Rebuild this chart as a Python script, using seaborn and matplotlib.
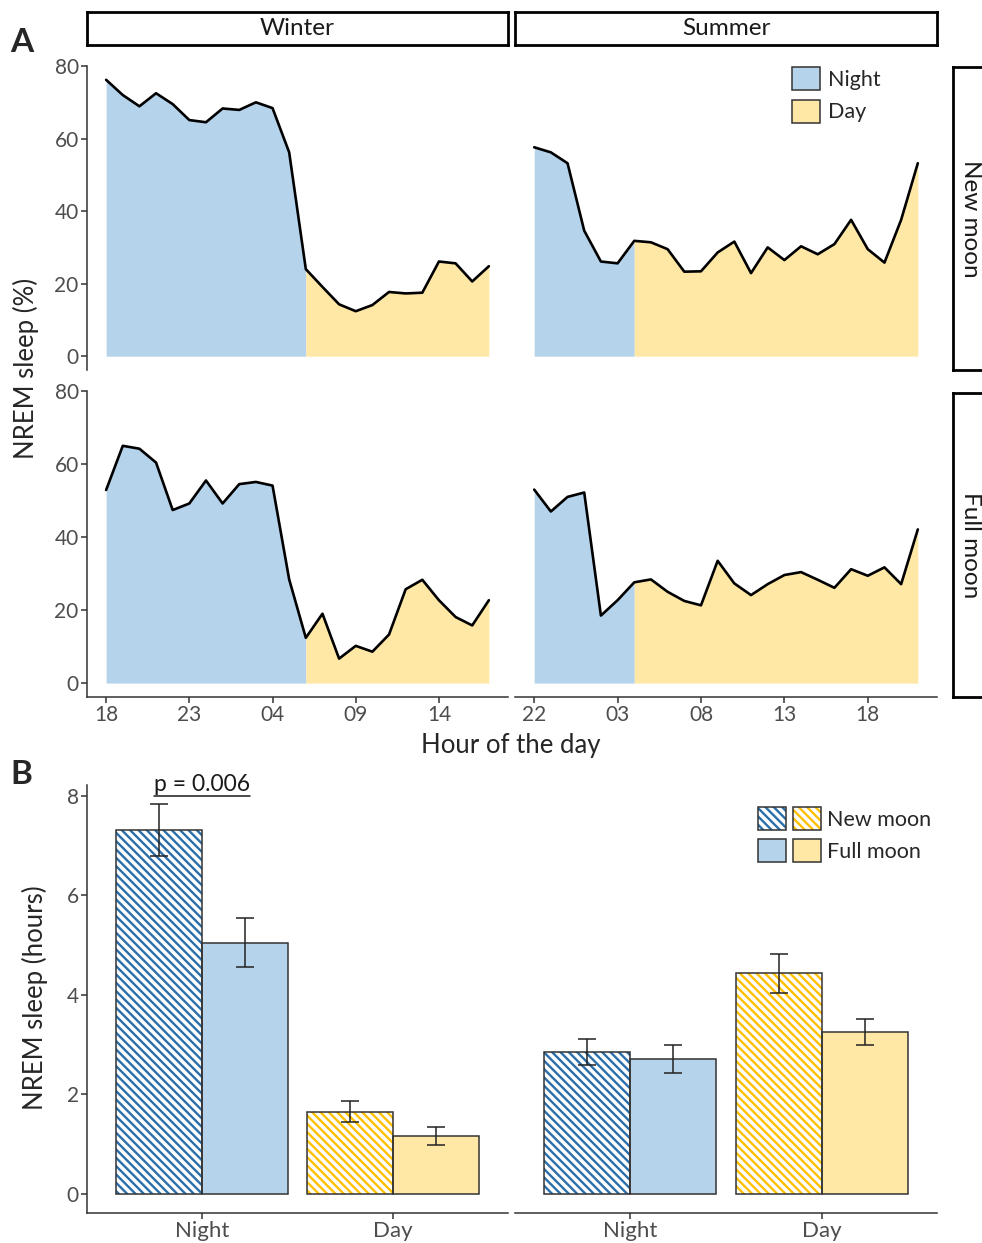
import pandas as pd
import seaborn as sns
import matplotlib.pyplot as plt
from matplotlib.patches import Patch, Rectangle
from matplotlib.legend_handler import HandlerTuple, HandlerPatch
from matplotlib.lines import Line2D

# --- hourly NREM sleep (%) -------------------------------------------------
winter_hours = [18, 19, 20, 21, 22, 23, 0, 1, 2, 3, 4, 5, 6, 7, 8, 9, 10, 11, 12, 13, 14, 15, 16, 17]
summer_hours = [22, 23, 0, 1, 2, 3, 4, 5, 6, 7, 8, 9, 10, 11, 12, 13, 14, 15, 16, 17, 18, 19, 20, 21]
winter_dawn = 6
summer_dawn = 4

winter_new = [76.2, 72.0, 68.9, 72.5, 69.5, 65.1, 64.5, 68.3, 67.9, 70.0, 68.4, 56.2,
              24.0, 19.1, 14.3, 12.4, 14.1, 17.7, 17.3, 17.5, 26.1, 25.6, 20.6, 24.8]
summer_new = [57.6, 56.2, 53.2, 34.6, 26.1, 25.6, 31.8, 31.4, 29.5, 23.3, 23.4, 28.6,
              31.6, 22.9, 30.0, 26.5, 30.3, 28.1, 30.9, 37.6, 29.5, 25.8, 37.6, 53.2]
winter_full = [52.9, 65.0, 64.2, 60.4, 47.4, 49.2, 55.5, 49.2, 54.5, 55.1, 54.1, 28.4,
               12.4, 19.0, 6.7, 10.2, 8.6, 13.3, 25.7, 28.3, 22.7, 18.1, 15.8, 22.7]
summer_full = [53.0, 47.0, 51.0, 52.2, 18.5, 22.7, 27.6, 28.4, 25.0, 22.5, 21.3, 33.5,
               27.3, 24.1, 27.1, 29.6, 30.4, 28.3, 26.1, 31.2, 29.4, 31.7, 27.1, 42.1]

# --- total NREM sleep (hours), order Night, Day ----------------------------
periods = ["Night", "Day"]
phases = ["New moon", "Full moon"]
winter_new_hrs = [7.31, 1.65]
winter_new_se = [0.52, 0.22]
winter_full_hrs = [5.05, 1.15]
winter_full_se = [0.50, 0.18]
summer_new_hrs = [2.84, 4.43]
summer_new_se = [0.26, 0.39]
summer_full_hrs = [2.71, 3.25]
summer_full_se = [0.28, 0.26]

BLUE = "#B6D3EC"
YELLOW = "#FFE8A6"
BLUE_H = "#2B6EAA"
YELLOW_H = "#FFC000"
EDGE = "#333333"
GREY = "#4D4D4D"
HATCH = "\\\\\\\\"

sns.set_style("ticks")
plt.rcParams["font.family"] = ["Lato", "DejaVu Sans"]
plt.rcParams["hatch.linewidth"] = 1.7

W, H = 982, 1243
fig = plt.figure(figsize=(W / 100, H / 100), dpi=100)


def box(x0, y0, x1, y1):
    return [x0 / W, 1 - y1 / H, (x1 - x0) / W, (y1 - y0) / H]


def style(ax, left, bottom):
    sns.despine(ax=ax, left=not left, bottom=not bottom)
    for s in ax.spines.values():
        s.set_color(EDGE)
        s.set_linewidth(1.1)
    ax.tick_params(colors=EDGE, labelcolor=GREY, labelsize=15, length=4, width=1.1, pad=2,
                   left=left, labelleft=left, bottom=bottom, labelbottom=bottom)
    ax.set_xlabel("")
    ax.set_ylabel("")


def profile(ax, hours, values, dawn):
    df = pd.DataFrame({"pos": range(len(hours)), "pct": values})
    cut = hours.index(dawn)
    ax.fill_between(df.pos[:cut + 1], df.pct[:cut + 1], color=BLUE, lw=0)
    ax.fill_between(df.pos[cut:], df.pct[cut:], color=YELLOW, lw=0)
    sns.lineplot(data=df, x="pos", y="pct", color="black", lw=1.9, ax=ax)
    n = len(hours) - 1
    ax.set_xlim(-0.05 * n, n * 1.05)
    ax.set_xticks(range(0, len(hours), 5))
    ax.set_xticklabels([f"{hours[i]:02d}" for i in range(0, len(hours), 5)])


top = max(winter_new + summer_new + winter_full + summer_full)
panels = [
    (box(87, 66, 508, 370), winter_hours, winter_new, winter_dawn, True, False),
    (box(515, 66, 937, 370), summer_hours, summer_new, summer_dawn, False, False),
    (box(87, 391, 508, 697), winter_hours, winter_full, winter_dawn, True, True),
    (box(515, 391, 937, 697), summer_hours, summer_full, summer_dawn, False, True),
]
line_axes = []
for rect, hrs, vals, dawn, left, bottom in panels:
    ax = fig.add_axes(rect)
    profile(ax, hrs, vals, dawn)
    ax.set_ylim(-0.05 * top, top * 1.05)
    ax.set_yticks([0, 20, 40, 60, 80])
    style(ax, left, bottom)
    line_axes.append(ax)

line_axes[1].legend(
    handles=[Patch(facecolor=BLUE, edgecolor=EDGE, lw=1.1), Patch(facecolor=YELLOW, edgecolor=EDGE, lw=1.1)],
    labels=["Night", "Day"], loc="upper left", bbox_to_anchor=(792 / W, 1 - 67 / H),
    bbox_transform=fig.transFigure, frameon=False, fontsize=15.5, handlelength=1.3,
    handleheight=1.3, labelspacing=0.42, handletextpad=0.35, borderpad=0, borderaxespad=0)


# facet strips
def strip(rect, text, rotation=0):
    sax = fig.add_axes(rect)
    sax.set_xticks([])
    sax.set_yticks([])
    for s in sax.spines.values():
        s.set_linewidth(2.0)
        s.set_color("black")
    sax.text(0.5, 0.5, text, ha="center", va="center", rotation=rotation,
             fontsize=17.5, color="#1A1A1A", transform=sax.transAxes)


strip(box(87, 12, 508, 45), "Winter")
strip(box(515, 12, 937, 45), "Summer")
strip(box(953, 67, 988, 370), "New moon", rotation=270)
strip(box(953, 393, 988, 697), "Full moon", rotation=270)


# --- panel B bars ------------------------------------------------------------
def bars(ax, new_h, new_se, full_h, full_se):
    df = pd.DataFrame({"period": periods * 2,
                       "phase": [phases[0]] * 2 + [phases[1]] * 2,
                       "hours": new_h + full_h})
    sns.barplot(data=df, x="period", y="hours", hue="phase", order=periods, hue_order=phases,
                width=0.9, errorbar=None, legend=False, ax=ax)
    ses = [new_se, full_se]
    conts = list(ax.containers)[:2]
    for k, cont in enumerate(conts):
        for j, bar in enumerate(cont):
            if k == 0:
                bar.set_facecolor("white")
                bar.set_edgecolor([BLUE_H, YELLOW_H][j])
                bar.set_hatch(HATCH)
                bar.set_linewidth(0)
                ax.add_patch(Rectangle(bar.get_xy(), bar.get_width(), bar.get_height(),
                                       fill=False, edgecolor=EDGE, lw=1.1, zorder=3))
            else:
                bar.set_facecolor([BLUE, YELLOW][j])
                bar.set_edgecolor(EDGE)
                bar.set_linewidth(1.1)
        xs = [b.get_x() + b.get_width() / 2 for b in cont]
        ax.errorbar(xs, [b.get_height() for b in cont], yerr=ses[k], fmt="none",
                    ecolor="#222222", elinewidth=1.1, capsize=6.5, capthick=1.1, zorder=4)
    ax.set_xlim(-0.6, 1.6)
    return max(h + s for h, s in zip(new_h + full_h, new_se + full_se))


axb1 = fig.add_axes(box(87, 785, 508, 1213))
axb2 = fig.add_axes(box(515, 785, 937, 1213))
hi1 = bars(axb1, winter_new_hrs, winter_new_se, winter_full_hrs, winter_full_se)
hi2 = bars(axb2, summer_new_hrs, summer_new_se, summer_full_hrs, summer_full_se)
hi = max(hi1, hi2)
for ax, left in [(axb1, True), (axb2, False)]:
    ax.set_ylim(-0.05 * hi, hi * 1.05)
    ax.set_yticks([0, 2, 4, 6, 8])
    style(ax, left, True)
    ax.tick_params(axis="x", labelsize=16)

ptxt = axb1.text(0, 8.03, "p = 0.006", ha="center", va="bottom", fontsize=16.5, color="#1A1A1A")


class HatchBox(HandlerPatch):
    def create_artists(self, legend, orig_handle, xdescent, ydescent, width, height, fontsize, trans):
        fill = Rectangle((-xdescent, -ydescent), width, height, facecolor="white",
                         edgecolor=orig_handle.get_edgecolor(), hatch=orig_handle.get_hatch(),
                         lw=0, transform=trans)
        frame = Rectangle((-xdescent, -ydescent), width, height, fill=False,
                          edgecolor=EDGE, lw=1.1, transform=trans)
        return [fill, frame]


hb = Patch(facecolor="white", edgecolor=BLUE_H, hatch=HATCH)
hy = Patch(facecolor="white", edgecolor=YELLOW_H, hatch=HATCH)
fb = Patch(facecolor=BLUE, edgecolor=EDGE, lw=1.1)
fy = Patch(facecolor=YELLOW, edgecolor=EDGE, lw=1.1)
axb2.legend(handles=[(hb, hy), (fb, fy)], labels=phases,
            handler_map={hb: HatchBox(), hy: HatchBox(), tuple: HandlerTuple(ndivide=None, pad=0.33)},
            loc="upper left", bbox_to_anchor=(758 / W, 1 - 807 / H), bbox_transform=fig.transFigure,
            frameon=False, fontsize=15.5, handlelength=2.92, handleheight=1.3, labelspacing=0.38,
            handletextpad=0.28, borderpad=0, borderaxespad=0)

# figure-level labels
fig.text(10 / W, 1 - 42 / H, "A", fontsize=24, fontweight="bold", va="center")
fig.text(10 / W, 1 - 775 / H, "B", fontsize=24, fontweight="bold", va="center")
fig.text(26 / W, 1 - 368 / H, "NREM sleep (%)", rotation=90, fontsize=18.5, ha="center", va="center")
fig.text(511 / W, 1 - 745 / H, "Hour of the day", fontsize=18.5, ha="center", va="center")
fig.text(35 / W, 1 - 998 / H, "NREM sleep (hours)", rotation=90, fontsize=18.5, ha="center", va="center")

# underline the p value
fig.canvas.draw()
bb = ptxt.get_window_extent()
inv = fig.transFigure.inverted()
(x0, y0), (x1, _) = inv.transform([(bb.x0, bb.y0 - 1), (bb.x1, bb.y0 - 1)])
fig.add_artist(Line2D([x0, x1], [y0, y0], color="#1A1A1A", lw=1.1, transform=fig.transFigure))

fig.savefig("out.png", dpi=100)
